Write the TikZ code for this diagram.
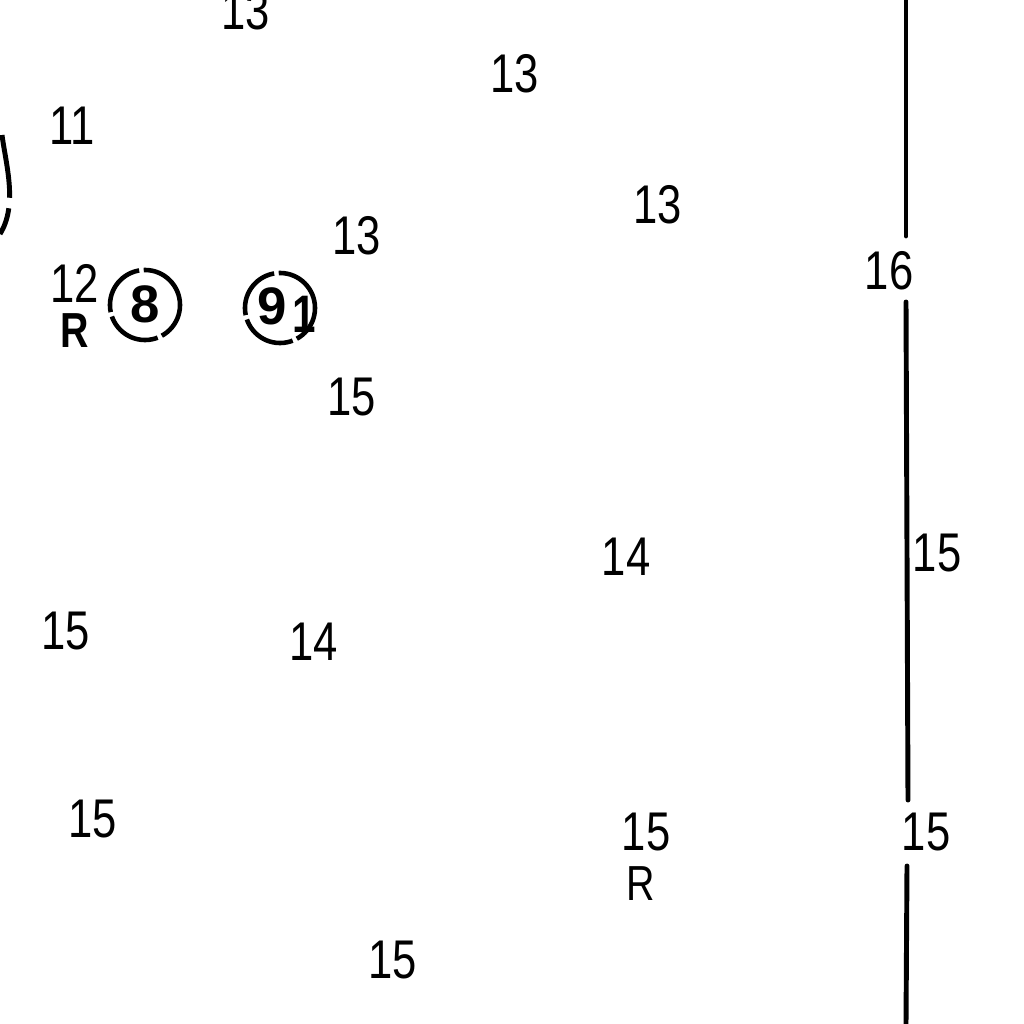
\documentclass[tikz,border=0pt]{standalone}
\usepackage{fontspec}
\setmainfont{Liberation Sans}
\tikzset{
  depth/.style={inner sep=0pt, xscale=0.8, font=\fontsize{15.5}{15.5}\selectfont},
  ringfig/.style={inner sep=0pt, font=\fontsize{15}{15}\selectfont\bfseries},
  ring/.style={circle, draw, line width=1.3pt, dash pattern=on 16pt off 1.3pt, minimum size=0.7cm, inner sep=0pt},
  chartline/.style={line width=1.4pt, line cap=round},
}
\begin{document}
\begin{tikzpicture}[x=0.01cm,y=-0.01cm]
  \useasboundingbox (0,0) rectangle (1024,1024);

  % Soundings
  \foreach \x/\y/\t [count=\i] in {246/11/13,515/74/13,72/126/11,658/205/13,357/236/13,
      352/397/15,626/557/14,937/553/15,66/631/15,314/642/14,93/819/15,646/832/15,
      926/832/15,393/960/15}
    \node[depth] (s\i) at (\x,\y) {\t};
  \node[depth] (s15) at (889,271) {16};
  \node[depth] (s16) at (75,283) {12};
  \node[depth, font=\fontsize{14}{14}\selectfont\bfseries] (r1) at (75,331) {R};
  \node[depth, font=\fontsize{14}{14}\selectfont] (r2) at (641,884) {R};

  % Ringed figures
  \node[ring] (c8) at (145,305) {};
  \node[ringfig] (n8) at (145,304) {8};
  \node[ring] (c9) at (280,308) {};
  \node[ringfig] (n9) at (272,306) {9};
  \node[depth, font=\fontsize{15}{15}\selectfont\bfseries] (n1) at (304,314) {1};

  % Boundary line
  \coordinate (t0) at (906,0);
  \coordinate (t1) at (906,236);
  \coordinate (t2) at (906,302);
  \coordinate (t3) at (908,800);
  \coordinate (t4) at (907,866);
  \coordinate (t5) at (906,1024);
  \draw[chartline] (t0) -- (t1);
  \draw[chartline] (t2) -- (t3);
  \draw[chartline] (t4) -- (t5);

  % Shape cut at the left edge
  \coordinate (e0) at (2,135);
  \coordinate (e2) at (0,234);
  \draw[line width=1.4pt, dash pattern=on 18pt off 3pt] (e0) .. controls (6,165) and (18,205) .. (e2);
\end{tikzpicture}
\end{document}
